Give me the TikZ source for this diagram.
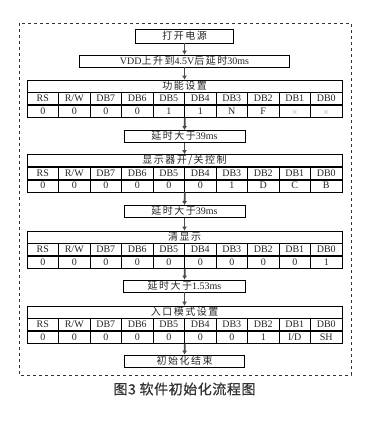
\documentclass[tikz,border=0pt]{standalone}
\usepackage{fontspec}
\setmainfont{Liberation Serif}
\newfontfamily\cjk{Noto Sans CJK SC}[LetterSpace=15]
\newfontfamily\cjkcap{Noto Sans CJK SC}[FakeBold=0.7, LetterSpace=4]
\usetikzlibrary{arrows.meta, positioning}
\tikzset{
  stepbox/.style={rectangle, draw=black, line width=0.7pt, minimum height=12pt, inner sep=0pt, text height=7.5pt, text depth=1.5pt, text centered, text=black!85, font=\fontsize{10}{10}\selectfont},
  titlerow/.style={stepbox, minimum width=315pt},
  cell/.style={stepbox, minimum width=31.5pt, anchor=north west},
  arrow/.style={line width=1.8pt, draw=black!70, -{Latex[length=4pt,width=5pt]}},
  frame/.style={draw=black!80, dashed, line width=0.6pt}
}

\begin{document}
\begin{tikzpicture}[x=1pt,y=-1pt]
\useasboundingbox (0,0) rectangle (367,421);
\draw[frame] (19,23) rectangle (351,375);

% steps
\node[stepbox, minimum width=98pt, minimum height=14pt] (power) at (184.5,36) {\cjk 打开电源};
\node[stepbox, minimum width=210pt] (vdd) at (184.5,61) {VDD{\cjk 上升到}4.5V{\cjk 后延时}30ms};
\node[titlerow] (funcset) at (184.5,86) {\cjk 功能设置};
\node[stepbox, minimum width=121pt] (wait1) at (184.5,136.5) {{\cjk 延时大于}39ms};
\node[titlerow] (dispctl) at (184.5,160.5) {\cjk 显示器开/关控制};
\node[stepbox, minimum width=121pt] (wait2) at (184.5,211.5) {{\cjk 延时大于}39ms};
\node[titlerow] (clrdisp) at (184.5,237) {\cjk 清显示};
\node[stepbox, minimum width=122pt] (wait3) at (184.5,286) {{\cjk 延时大于}1.53ms};
\node[titlerow] (entrymode) at (184.5,312) {\cjk 入口模式设置};
\node[stepbox, minimum width=120pt] (initend) at (184.5,361) {\cjk 初始化结束};

% register tables
\foreach \t in {funcset,dispctl,clrdisp,entrymode}
  \foreach \h [count=\i from 0] in {RS,R/W,DB7,DB6,DB5,DB4,DB3,DB2,DB1,DB0}
    \node[cell, xshift=\i*31.5pt] (\t h\i) at (\t.south west) {\h};

\foreach \v [count=\i from 0] in {0,0,0,0,1,1,N,F,{\color{black!40}\footnotesize$\times$},{\color{black!40}\footnotesize$\times$}}
  \node[cell] (funcsetv\i) at (funcseth\i.south west) {\v};
\foreach \v [count=\i from 0] in {0,0,0,0,0,0,1,D,C,B}
  \node[cell] (dispctlv\i) at (dispctlh\i.south west) {\v};
\foreach \v [count=\i from 0] in {0,0,0,0,0,0,0,0,0,1}
  \node[cell] (clrdispv\i) at (clrdisph\i.south west) {\v};
\foreach \v [count=\i from 0] in {0,0,0,0,0,0,0,1,I/D,SH}
  \node[cell] (entrymodev\i) at (entrymodeh\i.south west) {\v};

% flow
\draw[arrow] (power.south) -- (vdd.north);
\draw[arrow] (vdd.south) -- (funcset.north);
\draw[arrow] (funcsetv4.south east) -- (wait1.north);
\draw[arrow] (wait1.south) -- (dispctl.north);
\draw[arrow] (dispctlv4.south east) -- (wait2.north);
\draw[arrow] (wait2.south) -- (clrdisp.north);
\draw[arrow] (clrdispv4.south east) -- (wait3.north);
\draw[arrow] (wait3.south) -- (entrymode.north);
\draw[arrow] (entrymodev4.south east) -- (initend.north);

\node[font=\cjkcap\fontsize{14}{14}\selectfont, text=black!80] (caption) at (184.5,389) {图3 软件初始化流程图};
\end{tikzpicture}
\end{document}
